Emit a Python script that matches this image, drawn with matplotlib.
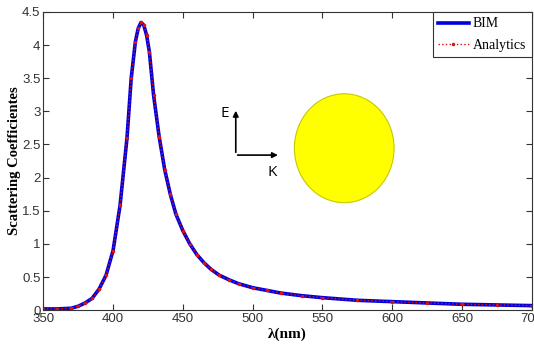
import numpy as np
import matplotlib
matplotlib.use('Agg')
import matplotlib.pyplot as plt
from matplotlib.patches import Ellipse

# wavelength (nm) and scattering coefficient
wl = [350, 360, 370, 375, 380, 385, 390, 395, 400, 405, 410, 413, 416, 418,
      420, 422, 424, 426, 429, 433, 437, 441, 445, 450, 455, 460, 465, 470,
      476, 483, 490, 500, 510, 520, 535, 550, 575, 600, 625, 650, 675, 700]
bim = [0.02, 0.02, 0.03, 0.06, 0.11, 0.18, 0.32, 0.53, 0.90, 1.58, 2.60, 3.50,
       4.05, 4.25, 4.34, 4.30, 4.15, 3.90, 3.25, 2.62, 2.12, 1.75, 1.45, 1.20,
       1.00, 0.84, 0.72, 0.62, 0.53, 0.46, 0.40, 0.34, 0.30, 0.26, 0.22, 0.19,
       0.15, 0.13, 0.11, 0.09, 0.08, 0.07]
analytics = list(bim)

xticks = [350, 400, 450, 500, 550, 600, 650, 700]
yticks = [0, 0.5, 1, 1.5, 2, 2.5, 3, 3.5, 4, 4.5]

tickfont = ['Liberation Sans Narrow', 'Liberation Sans', 'DejaVu Sans']
serif = ['Liberation Serif', 'DejaVu Serif']

fig = plt.figure(figsize=(5.34, 3.49), dpi=100)
ax = fig.add_axes([0.081, 0.111, 0.915, 0.855])

ax.plot(wl, bim, color='#0000dd', lw=2.6, label='BIM')
ax.plot(wl, analytics, color='#dd1111', lw=1.0, ls=':', marker='.',
        markersize=3, label='Analytics')

ax.set_xlim(350, 700)
ax.set_ylim(0, 4.5)
ax.set_xticks(xticks)
ax.set_yticks(yticks)
ax.set_xticklabels([str(t) for t in xticks], family=tickfont, fontsize=9.5)
ax.set_yticklabels(['%g' % t for t in yticks], family=tickfont, fontsize=9.5)
ax.tick_params(direction='in', top=True, right=True, length=4, width=0.8,
               pad=2, colors='#333333')
for s in ax.spines.values():
    s.set_color('#333333')
    s.set_linewidth(0.8)

ax.set_xlabel('λ(nm)', family=serif, fontsize=11, fontweight='bold', labelpad=2)
ax.set_ylabel('Scattering Coefficientes', family=serif, fontsize=10.5,
              fontweight='bold', labelpad=1)

leg = ax.legend(loc='upper right', borderaxespad=0, fancybox=False,
                framealpha=1, edgecolor='#333333', handlelength=2.2,
                handletextpad=0.3, labelspacing=0.6,
                prop={'family': serif, 'size': 10})
leg.get_frame().set_linewidth(0.8)

# inset sketch: polarisation arrows and the yellow particle
arrow = dict(arrowstyle='-|>', color='black', lw=1.2, mutation_scale=8)
ax.annotate('', xy=(0.394, 0.678), xytext=(0.394, 0.52),
            xycoords='axes fraction', arrowprops=arrow)
ax.annotate('', xy=(0.486, 0.52), xytext=(0.392, 0.52),
            xycoords='axes fraction', arrowprops=arrow)
ax.text(0.371, 0.66, 'E', transform=ax.transAxes, fontsize=11,
        family=['Open Sans', 'DejaVu Sans'], ha='center', va='center')
ax.text(0.469, 0.462, 'K', transform=ax.transAxes, fontsize=11,
        family=['Open Sans', 'DejaVu Sans'], ha='center', va='center')
ax.add_patch(Ellipse((0.616, 0.543), 0.204, 0.365, transform=ax.transAxes,
                     facecolor='#ffff00', edgecolor='#c8c800', lw=0.8))

fig.savefig('out.png', dpi=100)
